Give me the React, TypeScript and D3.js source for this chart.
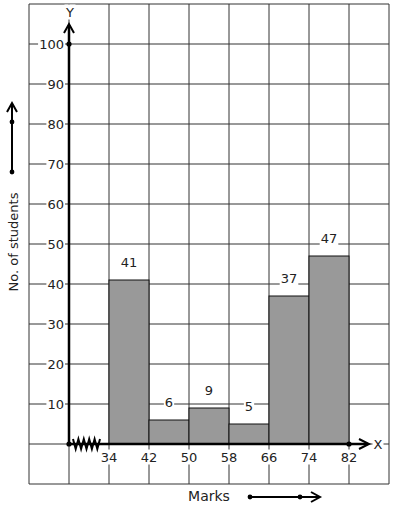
import * as d3 from 'd3'

const classStarts = [34, 42, 50, 58, 66, 74]
const classEnds = [42, 50, 58, 66, 74, 82]
const students = [41, 6, 9, 5, 37, 47]
const xTicks = [34, 42, 50, 58, 66, 74, 82]
const yTicks = [10, 20, 30, 40, 50, 60, 70, 80, 90, 100]
const gridX = [18, 26, 34, 42, 50, 58, 66, 74, 82, 90]
const gridY = [-10, 0, 10, 20, 30, 40, 50, 60, 70, 80, 90, 100, 110]

const W = 394
const H = 510
const font = 'DejaVu Sans, sans-serif'

const x = d3.scaleLinear().domain([26, 82]).range([69, 349])
const y = d3.scaleLinear().domain([0, 100]).range([444, 44])

// label with a white box behind it, so grid lines look broken
const Label = ({ cx, cy, text, size = 13, w }: { cx: number; cy: number; text: string; size?: number; w?: number }) => {
  const bw = w ?? text.length * size * 0.64 + 2
  return (
    <g>
      <rect x={cx - bw / 2} y={cy - size / 2 - 1} width={bw} height={size + 2} fill="#fff" />
      <text x={cx} y={cy} textAnchor="middle" dominantBaseline="central" fontSize={size} fontFamily={font} fill="#222">
        {text}
      </text>
    </g>
  )
}

export default function App() {
  const x0 = x(26)
  const y0 = y(0)
  const zig = d3.range(11).map((i) => [x0 + 4 + i * 2.7, y0 + (i % 2 === 0 ? -5 : 5)] as [number, number])
  const zigPath = d3.line()(zig) ?? ''

  return (
    <svg width={W} height={H} style={{ position: 'absolute', left: 0, top: 0, background: '#fff' }}>
      {/* grid */}
      <g stroke="#333" strokeWidth={1}>
        {gridX.map((v) => (
          <line key={'gx' + v} x1={x(v)} x2={x(v)} y1={y(110)} y2={y(-10)} />
        ))}
        {gridY.map((v) => (
          <line key={'gy' + v} x1={x(18)} x2={x(90)} y1={y(v)} y2={y(v)} />
        ))}
      </g>

      {/* bars */}
      {students.map((s, i) => (
        <rect
          key={i}
          x={x(classStarts[i])}
          y={y(s)}
          width={x(classEnds[i]) - x(classStarts[i])}
          height={y0 - y(s)}
          fill="#999"
          stroke="#111"
          strokeWidth={1}
        />
      ))}

      {/* y tick labels */}
      {yTicks.map((v) => (
        <Label key={'yt' + v} cx={64 - (String(v).length * 8.3) / 2} cy={y(v)} text={String(v)} />
      ))}

      {/* x tick labels */}
      {xTicks.map((v) => (
        <Label key={'xt' + v} cx={x(v)} cy={y0 + 13} text={String(v)} />
      ))}

      {/* bar value labels */}
      {students.map((s, i) => (
        <Label key={'bl' + i} cx={(x(classStarts[i]) + x(classEnds[i])) / 2} cy={y(s) - 18} text={String(s)} />
      ))}

      {/* axes */}
      <g stroke="#000" strokeWidth={2.5} fill="none">
        <line x1={x0} x2={x0} y1={y0} y2={25} />
        <path d={`M${x0 - 5},${33} L${x0},${24} L${x0 + 5},${33}`} strokeWidth={2} />
        <line x1={x0} x2={368} y1={y0} y2={y0} />
        <path d={`M${359},${y0 - 5} L${369},${y0} L${359},${y0 + 5}`} strokeWidth={2} />
        <path d={zigPath} strokeWidth={2} />
      </g>
      <circle cx={x0} cy={y(100)} r={2.6} fill="#000" />
      <circle cx={x0} cy={y0} r={2.6} fill="#000" />
      <circle cx={x(82)} cy={y0} r={2.6} fill="#000" />

      <Label cx={70} cy={12} text="Y" w={11} />
      <Label cx={378} cy={y0} text="X" w={11} />

      {/* axis titles */}
      <Label cx={209} cy={496} text="Marks" size={14} w={46} />
      <text
        transform={`translate(13,${242}) rotate(-90)`}
        textAnchor="middle"
        dominantBaseline="central"
        fontSize={13}
        fontFamily={font}
        fill="#222"
      >
        No. of students
      </text>

      {/* direction arrows */}
      <g stroke="#000" strokeWidth={2} fill="none">
        <line x1={12} x2={12} y1={172} y2={104} />
        <path d="M7,112 L12,103 L17,112" />
        <line x1={250} x2={319} y1={497} y2={497} />
        <path d="M311,492 L320,497 L311,502" />
      </g>
      <circle cx={12} cy={172} r={2.4} fill="#000" />
      <circle cx={12} cy={122} r={2.4} fill="#000" />
      <circle cx={250} cy={497} r={2.4} fill="#000" />
      <circle cx={300} cy={497} r={2.4} fill="#000" />
    </svg>
  )
}
